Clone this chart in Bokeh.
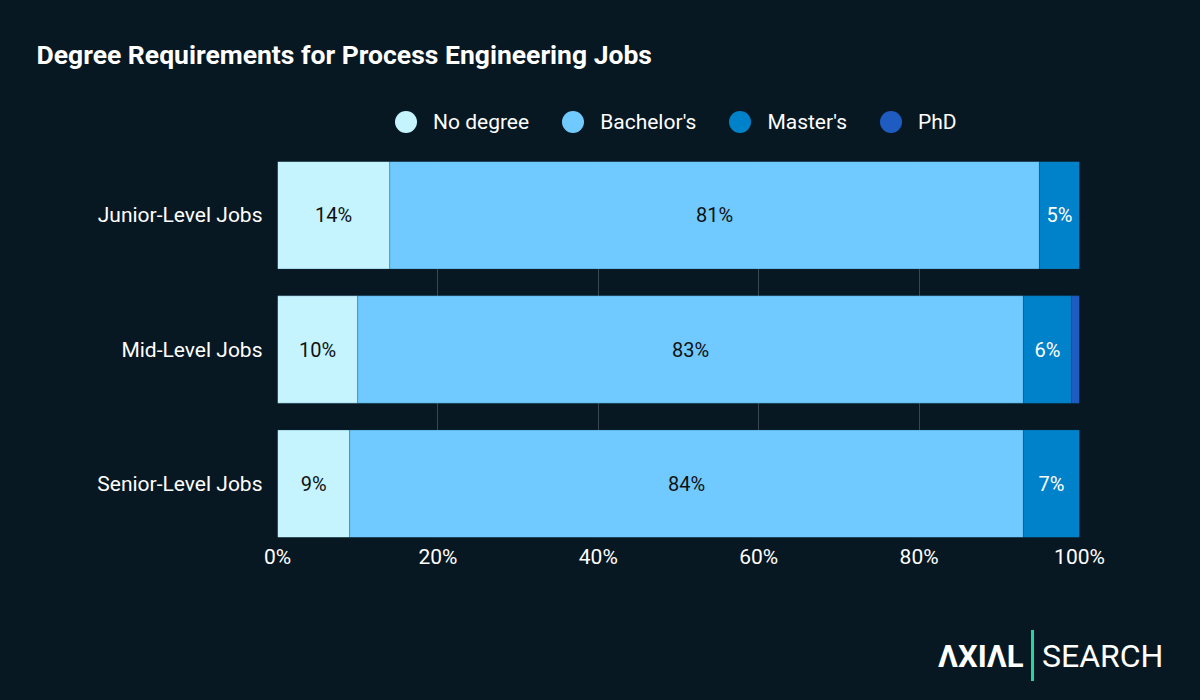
from bokeh.plotting import figure
from bokeh.layouts import column
from bokeh.models import (Range1d, FixedTicker, PrintfTickFormatter, Legend,
                          LegendItem, ColumnDataSource, Div)
from bokeh.core.properties import value
from bokeh.embed import file_html
from bokeh.resources import INLINE

# ---------------- data ----------------
categories = ["Junior-Level Jobs", "Mid-Level Jobs", "Senior-Level Jobs"]
series = ["No degree", "Bachelor's", "Master's", "PhD"]
no_degree = [14, 10, 9]
bachelors = [81, 83, 84]
masters = [5, 6, 7]
phd = [0, 1, 0]
x_ticks = [0, 20, 40, 60, 80, 100]
title_text = "Degree Requirements for Process Engineering Jobs"
logo_left, logo_right = "ΛXIΛL", "SEARCH"

colors = ["#c5f4ff", "#70caff", "#0082ca", "#1e5cc2"]
label_colors = ["#111111", "#111111", "#ffffff", "#ffffff"]
BG = "#081822"
GRID = "#3a4650"
FONT = "Roboto"
W = 1200
SPACER_H, HEAD_H, MAIN_H = 20, 131, 416
FOOT_H = 700 - 30 - HEAD_H - MAIN_H

# ---------------- spacer ----------------
spacer = Div(text="", width=W, height=SPACER_H, styles={"background-color": BG})

# ---------------- header: title + legend ----------------
head = figure(width=W, height=HEAD_H, output_backend="svg", toolbar_location=None,
              x_range=Range1d(0, 1), y_range=Range1d(0, 1), min_border=0,
              x_axis_location=None, y_axis_location=None)
head.background_fill_color = BG
head.border_fill_color = BG
head.outline_line_color = None
head.xgrid.visible = False
head.ygrid.visible = False
head.title.text = title_text
head.title.align = "left"
head.title.offset = -241
head.title.text_color = "#ffffff"
head.title.text_font = FONT
head.title.text_font_style = "bold"
head.title.text_font_size = "26.5px"
head.title.standoff = 12

items = []
for s, col in zip(series, colors):
    r = head.scatter(x=[-1], y=[-1], size=0, marker="circle",
                     fill_color=col, line_color=None)
    items.append(LegendItem(label=s, renderers=[r]))
legend = Legend(items=items, orientation="horizontal", location=(101, 12),
                glyph_width=55, glyph_height=55, label_standoff=0, spacing=16,
                padding=0, margin=0, background_fill_alpha=0, border_line_alpha=0,
                label_text_color="#ffffff", label_text_font=FONT,
                label_text_font_size="21px")
head.add_layout(legend)

# ---------------- main chart ----------------
values = [no_degree, bachelors, masters, phd]
n = len(categories)
ys = list(range(n, 0, -1))  # first category at top

p = figure(width=W, height=MAIN_H, output_backend="svg", toolbar_location=None,
           x_range=Range1d(0, 100), y_range=Range1d(0.6, n + 0.4),
           min_border_left=277, min_border_right=121, min_border_top=0,
           min_border_bottom=MAIN_H - 376)
p.background_fill_color = BG
p.border_fill_color = BG
p.outline_line_color = None

lefts = [0] * n
for vals, col, lcol in zip(values, colors, label_colors):
    rights = [l + v for l, v in zip(lefts, vals)]
    src = ColumnDataSource(dict(y=ys, left=lefts, right=rights))
    p.hbar(y="y", left="left", right="right", height=0.8, source=src,
           fill_color=col, line_color="#0a4a70", line_alpha=0.25, line_width=1)
    lab = [(l + r) / 2 for l, r, v in zip(lefts, rights, vals) if v >= 3]
    laby = [yy for yy, v in zip(ys, vals) if v >= 3]
    labt = [f"{v}%" for v in vals if v >= 3]
    p.text(x=lab, y=laby, text=labt, text_align="center", text_baseline="middle",
           text_color=lcol, text_font=value(FONT), text_font_size="20px")
    lefts = rights

p.xaxis.ticker = FixedTicker(ticks=x_ticks)
p.xaxis.formatter = PrintfTickFormatter(format="%d%%")
p.yaxis.ticker = FixedTicker(ticks=ys)
p.yaxis.major_label_overrides = {yy: c for yy, c in zip(ys, categories)}
for ax in (p.xaxis, p.yaxis):
    ax.axis_line_color = None
    ax.major_tick_line_color = None
    ax.minor_tick_line_color = None
    ax.major_tick_out = 0
    ax.major_tick_in = 0
    ax.minor_tick_out = 0
    ax.major_label_text_color = "#ffffff"
    ax.major_label_text_font = FONT
    ax.major_label_text_font_size = "21px"
p.xaxis.major_label_standoff = 7
p.yaxis.major_label_standoff = 15
p.xgrid.ticker = FixedTicker(ticks=x_ticks)
p.xgrid.grid_line_color = GRID
p.ygrid.grid_line_color = None

# ---------------- footer: logo ----------------
logo_html = (
    f'<div style="position:relative;width:{W}px;height:{FOOT_H}px;font-family:Roboto;'
    f'color:#ffffff;">'
    f'<span style="position:absolute;left:938px;top:64px;font-size:31px;line-height:31px;'
    f'font-weight:bold;white-space:nowrap;">{logo_left}</span>'
    f'<span style="position:absolute;left:1031px;top:53px;width:3px;height:51px;'
    f'background:#27d3a0;"></span>'
    f'<span style="position:absolute;left:1042px;top:63px;font-size:32px;line-height:32px;'
    f'white-space:nowrap;">{logo_right}</span>'
    f'</div>'
)
foot = Div(text=logo_html, width=W, height=FOOT_H,
           styles={"background-color": BG, "margin": "0", "padding": "0"})

layout = column(spacer, head, p, foot, spacing=0,
                styles={"background-color": BG})
open("out.html", "w").write(file_html(layout, INLINE))
